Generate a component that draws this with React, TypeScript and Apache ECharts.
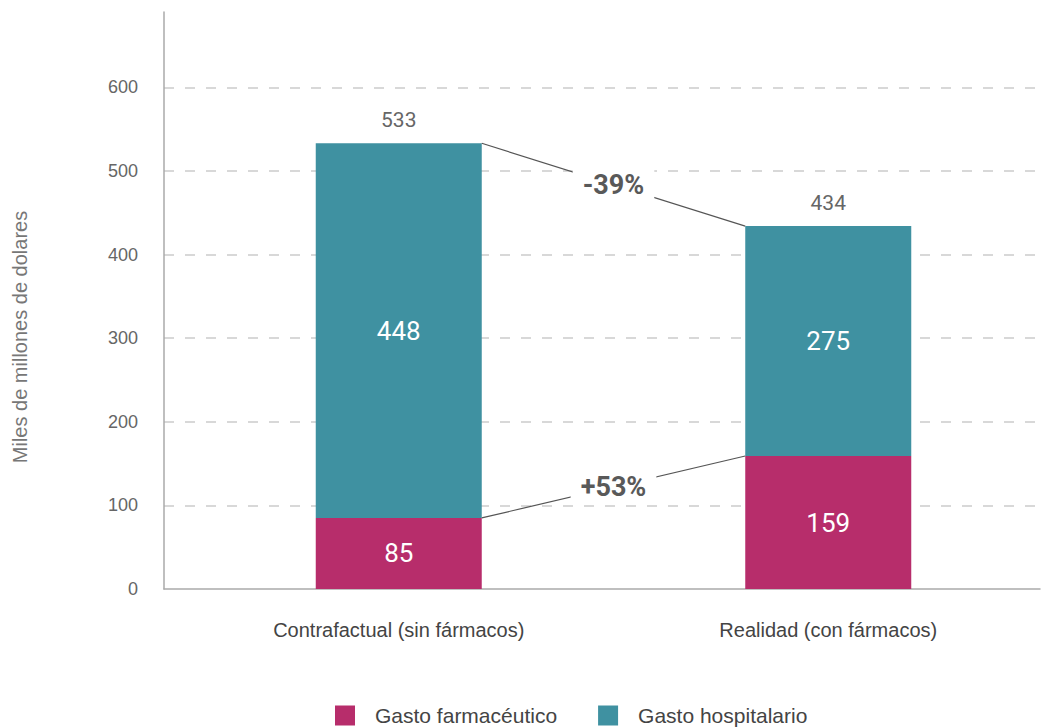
import React, { useEffect, useRef } from "react";
import * as echarts from "echarts";

const categories = ["Contrafactual (sin fármacos)", "Realidad (con fármacos)"];
const pharma = [85, 159];
const hospital = [448, 275];
const totals = [533, 434];
const changeLabels = ["-39%", "+53%"];
const seriesNames = ["Gasto farmacéutico", "Gasto hospitalario"];
const yAxisName = "Miles de millones de dolares";

const PHARMA_COLOR = "#B72D6B";
const HOSP_COLOR = "#3F91A1";
const TEXT_FONT = "'Liberation Sans', Arial, sans-serif";
const NUM_FONT = "Roboto, 'Liberation Sans', sans-serif";
const BAR_WIDTH = 166;

export default function App() {
  const ref = useRef<HTMLDivElement>(null);
  useEffect(() => {
    if (!ref.current) return;
    const chart = echarts.init(ref.current, undefined, { renderer: "svg" });
    const option: any = {
      animation: false,
      backgroundColor: "#fff",
      grid: [
        { left: 164, right: 3, top: 12, bottom: 138 },
        { left: 184, right: 0, top: 12, bottom: 138 },
      ],
      legend: {
        left: 330,
        top: 700,
        itemWidth: 20,
        itemHeight: 20,
        itemGap: 41,
        icon: "rect",
        data: seriesNames,
        textStyle: {
          fontFamily: TEXT_FONT,
          fontSize: 21,
          color: "#444",
          padding: [0, 0, 0, 15],
        },
      },
      xAxis: [
        {
          type: "category",
          gridIndex: 0,
          data: [""],
          axisLine: { show: true, lineStyle: { color: "#aaa", width: 1.5 } },
          axisTick: { show: false },
          axisLabel: { show: false },
          splitLine: { show: false },
        },
        {
          type: "category",
          gridIndex: 1,
          data: categories,
          axisLine: { show: false },
          axisTick: { show: false },
          axisLabel: {
            margin: 31,
            fontFamily: TEXT_FONT,
            fontSize: 20,
            color: "#444",
          },
        },
      ],
      yAxis: [
        {
          type: "value",
          gridIndex: 0,
          min: 0,
          max: 690,
          interval: 100,
          axisLine: { show: true, lineStyle: { color: "#aaa", width: 1.5 } },
          axisTick: { show: false },
          axisLabel: {
            showMaxLabel: false,
            margin: 26,
            fontFamily: TEXT_FONT,
            fontSize: 18,
            color: "#666",
          },
          splitLine: {
            show: true,
            showMinLine: false,
            showMaxLine: false,
            lineStyle: { color: "#ccc", type: [10, 11], width: 1.5 },
          },
        },
        {
          type: "value",
          gridIndex: 1,
          min: 0,
          max: 690,
          interval: 100,
          show: false,
          splitLine: { show: false },
        },
      ],
      series: [
        {
          name: seriesNames[0],
          type: "bar",
          stack: "total",
          xAxisIndex: 1,
          yAxisIndex: 1,
          barWidth: BAR_WIDTH,
          data: pharma,
          itemStyle: { color: PHARMA_COLOR },
          label: {
            show: true,
            position: "inside",
            color: "#fff",
            fontFamily: NUM_FONT,
            fontSize: 26,
          },
        },
        {
          name: seriesNames[1],
          type: "bar",
          stack: "total",
          xAxisIndex: 1,
          yAxisIndex: 1,
          barWidth: BAR_WIDTH,
          data: hospital,
          itemStyle: { color: HOSP_COLOR },
          label: {
            show: true,
            position: "inside",
            color: "#fff",
            fontFamily: NUM_FONT,
            fontSize: 26,
          },
        },
        {
          name: "total",
          type: "bar",
          stack: "total",
          xAxisIndex: 1,
          yAxisIndex: 1,
          barWidth: BAR_WIDTH,
          silent: true,
          data: totals.map(() => 0),
          itemStyle: { color: "transparent" },
          label: {
            show: true,
            position: "top",
            distance: 13,
            color: "#666",
            fontFamily: NUM_FONT,
            fontSize: 21,
            formatter: (p: any) => String(totals[p.dataIndex]),
          },
        },
      ],
    };
    chart.setOption(option);

    const px = (i: number, v: number) =>
      chart.convertToPixel({ xAxisIndex: 1, yAxisIndex: 1 } as any, [i, v]) as number[];
    const half = BAR_WIDTH / 2;
    const connectors = [
      { from: px(0, totals[0]), to: px(1, totals[1]), label: changeLabels[0] },
      { from: px(0, pharma[0]), to: px(1, pharma[1]), label: changeLabels[1] },
    ];
    const graphic: any[] = [
      {
        type: "text",
        x: 20,
        y: 337,
        rotation: Math.PI / 2,
        style: {
          text: yAxisName,
          align: "center",
          verticalAlign: "middle",
          fontFamily: TEXT_FONT,
          fontSize: 20,
          fill: "#777",
        },
      },
    ];
    connectors.forEach((c) => {
      const x1 = c.from[0] + half;
      const y1 = c.from[1];
      const x2 = c.to[0] - half;
      const y2 = c.to[1];
      graphic.push({
        type: "line",
        z: 100,
        shape: { x1, y1, x2, y2 },
        style: { stroke: "#555", lineWidth: 1.2 },
      });
      graphic.push({
        type: "text",
        z: 101,
        x: (x1 + x2) / 2,
        y: (y1 + y2) / 2,
        style: {
          text: c.label,
          align: "center",
          verticalAlign: "middle",
          fontFamily: NUM_FONT,
          fontWeight: "bold",
          fontSize: 27,
          fill: "#595959",
          backgroundColor: "#fff",
          padding: [4, 10, 4, 10],
        },
      });
    });
    chart.setOption({ graphic });

    return () => chart.dispose();
  }, []);
  return (
    <div
      ref={ref}
      style={{ position: "fixed", left: 0, top: 0, width: 1043, height: 727 }}
    />
  );
}
